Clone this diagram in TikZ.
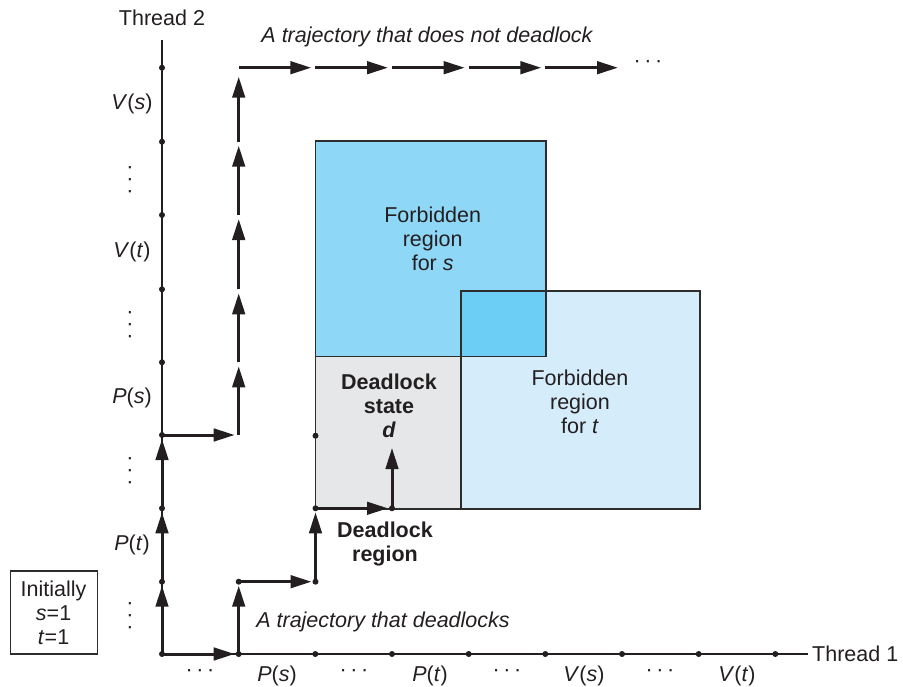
\documentclass[tikz,border=0pt]{standalone}
\usepackage{fontspec}
\setmainfont{Liberation Sans}
\usetikzlibrary{arrows.meta}
\definecolor{sregc}{RGB}{142,215,246}
\definecolor{tregc}{RGB}{213,236,250}
\definecolor{overc}{RGB}{108,206,244}
\definecolor{dgrayc}{RGB}{230,231,232}
\definecolor{edgec}{RGB}{45,45,45}
\definecolor{textc}{RGB}{35,31,32}
\newcommand{\vdotstack}{\rlap{\raisebox{12pt}{·}}\rlap{·}\raisebox{-12pt}{·}}
\begin{document}
\begin{tikzpicture}[x=1pt,y=-1pt,
  font=\fontsize{21.5}{24}\selectfont, text=textc,
  axisline/.style={line width=1.3pt, draw=textc},
  traj/.style={line width=3pt, draw=textc, -{Triangle[length=21pt,width=12.5pt]}, shorten >=4pt},
  lab/.style={inner sep=0pt, align=center},
  regionedge/.style={draw=edgec, line width=1.1pt},
  dotc/.style={fill=textc},
  vdots/.style={inner sep=0pt}]
\useasboundingbox (0,0) rectangle (903,686);

% ---------- regions ----------
\fill[dgrayc] (315.5,356.7) rectangle (461,509);
\fill[tregc] (461,291) rectangle (700,509);
\fill[sregc] (315.5,141) rectangle (546,356.7);
\fill[overc] (461,291) rectangle (546,356.7);
\draw[regionedge] (315.5,141) rectangle (546,356.7);
\draw[regionedge] (461,291) rectangle (700,509);
\draw[regionedge] (315.5,356.7) -- (315.5,509) -- (461,509);

\node[lab] (fs) at (432.7,239) {Forbidden\\region\\for \textit{s}};
\node[lab] (ft) at (580,401.7) {Forbidden\\region\\for \textit{t}};
\node[lab, font=\fontsize{21.5}{24}\selectfont\bfseries] (dstate) at (389,406) {Deadlock\\state\\\textit{d}};
\node[lab, font=\fontsize{21.5}{24}\selectfont\bfseries] (dregion) at (385,544) {Deadlock\\region};

% ---------- coordinates ----------
\coordinate (a0) at (162,654);
\coordinate (a1) at (162,581.7);
\coordinate (a2) at (162,508.3);
\coordinate (a3) at (162,435);
\coordinate (b3) at (238.7,435);
\coordinate (b4) at (238.7,362.3);
\coordinate (b5) at (238.7,289.3);
\coordinate (b6) at (238.7,215);
\coordinate (b7) at (238.7,141.7);
\coordinate (b8) at (238.7,67.7);
\coordinate (c3) at (315.3,67.7);
\coordinate (c4) at (392,67.7);
\coordinate (c5) at (468.7,67.7);
\coordinate (c6) at (545.3,67.7);
\coordinate (c7) at (622,67.7);
\coordinate (d1) at (238.7,654);
\coordinate (d2) at (238.7,581.7);
\coordinate (d3) at (315.5,581.7);
\coordinate (d4) at (315.5,508.3);
\coordinate (d5) at (392,508.3);
\coordinate (d6) at (392,435);
\coordinate (d7) at (315.5,435.7);
\coordinate (xend) at (808,654);
\coordinate (yend) at (162,40);

% ---------- axes ----------
\draw[axisline] (a0) -- (xend);
\draw[axisline] (a0) -- (yend);
\node[anchor=west, inner sep=0pt] (th1) at (812,654) {Thread 1};
\node[inner sep=0pt] (th2) at (162,18) {Thread 2};

\foreach \i in {0,...,8} {
  \fill[dotc] ({162+76.67*\i},654) circle (3pt);
}
\foreach \y in {581.7,508.3,435,362.3,289.3,215,141.7,67.7} {
  \fill[dotc] (162,\y) circle (3pt);
}

% x labels
\node[lab] (xl1) at (200,673) {·\,·\,·};
\node[lab] (xl2) at (277,676) {\textit{P}(\textit{s})};
\node[lab] (xl3) at (354,673) {·\,·\,·};
\node[lab] (xl4) at (430,676) {\textit{P}(\textit{t})};
\node[lab] (xl5) at (507,673) {·\,·\,·};
\node[lab] (xl6) at (584,676) {\textit{V}(\textit{s})};
\node[lab] (xl7) at (660,673) {·\,·\,·};
\node[lab] (xl8) at (737,676) {\textit{V}(\textit{t})};

% y labels
\node[vdots] (yl1) at (130,618) {\vdotstack};
\node[lab] (yl2) at (132,545) {\textit{P}(\textit{t})};
\node[vdots] (yl3) at (130,473) {\vdotstack};
\node[lab] (yl4) at (132,398) {\textit{P}(\textit{s})};
\node[vdots] (yl5) at (130,327) {\vdotstack};
\node[lab] (yl6) at (132,252) {\textit{V}(\textit{t})};
\node[vdots] (yl7) at (130,182) {\vdotstack};
\node[lab] (yl8) at (132,104) {\textit{V}(\textit{s})};

% ---------- trajectory that does not deadlock ----------
\draw[traj] (a0) -- (a1);
\draw[traj] (a1) -- (a2);
\draw[traj] (a2) -- (a3);
\draw[traj] (a3) -- (b3);
\draw[traj] (b3) -- (b4);
\draw[traj] (b4) -- (b5);
\draw[traj] (b5) -- (b6);
\draw[traj] (b6) -- (b7);
\draw[traj, shorten >=9pt] (b7) -- (b8);
\draw[traj] (b8) -- (c3);
\draw[traj] (c3) -- (c4);
\draw[traj] (c4) -- (c5);
\draw[traj] (c5) -- (c6);
\draw[traj] (c6) -- (c7);
\node[lab] (topdots) at (648,64) {·\,·\,·};
\node[lab, font=\fontsize{21.5}{24}\selectfont\itshape] (tnd) at (427,37) {A trajectory that does not deadlock};

% ---------- trajectory that deadlocks ----------
\draw[traj] (a0) -- (d1);
\draw[traj] (d1) -- (d2);
\draw[traj] (d2) -- (d3);
\draw[traj] (d3) -- (d4);
\draw[traj] (d4) -- (d5);
\draw[traj, shorten >=13pt] (d5) -- (d6);
\foreach \p in {d2,d3,d4,d5,d7} { \fill[dotc] (\p) circle (3pt); }
\node[lab, font=\fontsize{21.5}{24}\selectfont\itshape] (td) at (383,622) {A trajectory that deadlocks};

% ---------- initial values ----------
\node[draw=edgec, line width=1.1pt, minimum width=87pt, minimum height=83pt, inner sep=0pt, align=center] (init) at (53.6,612.5) {Initially\\\textit{s}=1\\\textit{t}=1};
\end{tikzpicture}
\end{document}
